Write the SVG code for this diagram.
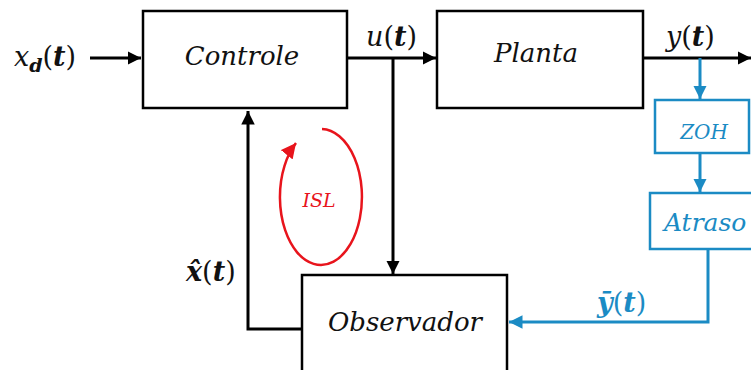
<svg xmlns="http://www.w3.org/2000/svg" width="751" height="370" viewBox="0 0 751 370">
<style>
text{font-family:"DejaVu Serif","Liberation Serif",serif;font-style:italic}
.up{font-style:normal}
.box{fill:#fff;stroke:#000;stroke-width:2.5}
.bbox{fill:#fff;stroke:#1b8bc4;stroke-width:2.5}
</style>
<defs>
<marker id="ak" viewBox="0 0 10 10" refX="10" refY="5" markerWidth="4.5" markerHeight="4.5" orient="auto" markerUnits="strokeWidth"><path d="M0,0L10,5L0,10z" fill="#000"/></marker>
<marker id="ab" viewBox="0 0 10 10" refX="10" refY="5" markerWidth="4.5" markerHeight="4.5" orient="auto" markerUnits="strokeWidth"><path d="M0,0L10,5L0,10z" fill="#1b8bc4"/></marker>
<marker id="ar" viewBox="0 0 10 10" refX="10" refY="5" markerWidth="6" markerHeight="6" orient="auto" markerUnits="strokeWidth"><path d="M0,0L10,5L0,10z" fill="#e8141c"/></marker>
</defs>
<g id="connectors" fill="none" stroke-width="3">
<path stroke="#000" d="M90,58H141" marker-end="url(#ak)"/>
<path stroke="#000" d="M347,58H436" marker-end="url(#ak)"/>
<path stroke="#000" d="M393,58V274" marker-end="url(#ak)"/>
<path stroke="#000" d="M643,58H751" marker-end="url(#ak)"/>
<path stroke="#000" d="M302,329H248V111" marker-end="url(#ak)"/>
<path stroke="#1b8bc4" d="M700,58V99" marker-end="url(#ab)"/>
<path stroke="#1b8bc4" d="M700,154V192" marker-end="url(#ab)"/>
<path stroke="#1b8bc4" d="M708,250V322H509" marker-end="url(#ab)"/>
<path d="M322,129 A41,68 0 1 1 296,143" stroke="#e8141c" stroke-width="2.5" marker-end="url(#ar)"/>
</g>
<g id="controle"><rect class="box" x="143" y="11" width="204" height="97"/><text x="242" y="65" font-size="26" text-anchor="middle" fill="#111">Controle</text></g>
<g id="planta"><rect class="box" x="437" y="11" width="206" height="97"/><text x="536" y="62" font-size="26" text-anchor="middle" fill="#111">Planta</text></g>
<g id="observador"><rect class="box" x="302" y="275" width="205" height="110"/><text x="405" y="331" font-size="26" text-anchor="middle" fill="#111">Observador</text></g>
<g id="zoh"><rect class="bbox" x="655" y="100" width="94" height="53"/><text x="704" y="139" font-size="20" text-anchor="middle" fill="#1b8bc4">ZOH</text></g>
<g id="atraso"><rect class="bbox" x="650" y="193" width="110" height="56"/><text x="664" y="231" font-size="25" fill="#1b8bc4">Atraso</text></g>
<g id="labels">
<text x="14" y="66" font-size="27" fill="#111">x<tspan font-size="19" dy="6" font-weight="bold">d</tspan><tspan class="up" dy="-6">(</tspan><tspan font-weight="bold">t</tspan><tspan class="up">)</tspan></text>
<text x="366" y="46" font-size="27" fill="#111">u<tspan class="up">(</tspan><tspan font-weight="bold">t</tspan><tspan class="up">)</tspan></text>
<text x="666" y="46" font-size="27" fill="#111">y<tspan class="up">(</tspan><tspan font-weight="bold">t</tspan><tspan class="up">)</tspan></text>
<text x="186" y="281" font-size="27" fill="#111"><tspan font-weight="bold">x̂</tspan><tspan class="up">(</tspan><tspan font-weight="bold">t</tspan><tspan class="up">)</tspan></text>
<text x="597" y="312" font-size="27" fill="#1b8bc4"><tspan font-weight="bold">ȳ</tspan><tspan class="up">(</tspan><tspan font-weight="bold">t</tspan><tspan class="up">)</tspan></text>
<text x="319" y="207" font-size="19" fill="#e8141c" text-anchor="middle">ISL</text>
</g>
</svg>
